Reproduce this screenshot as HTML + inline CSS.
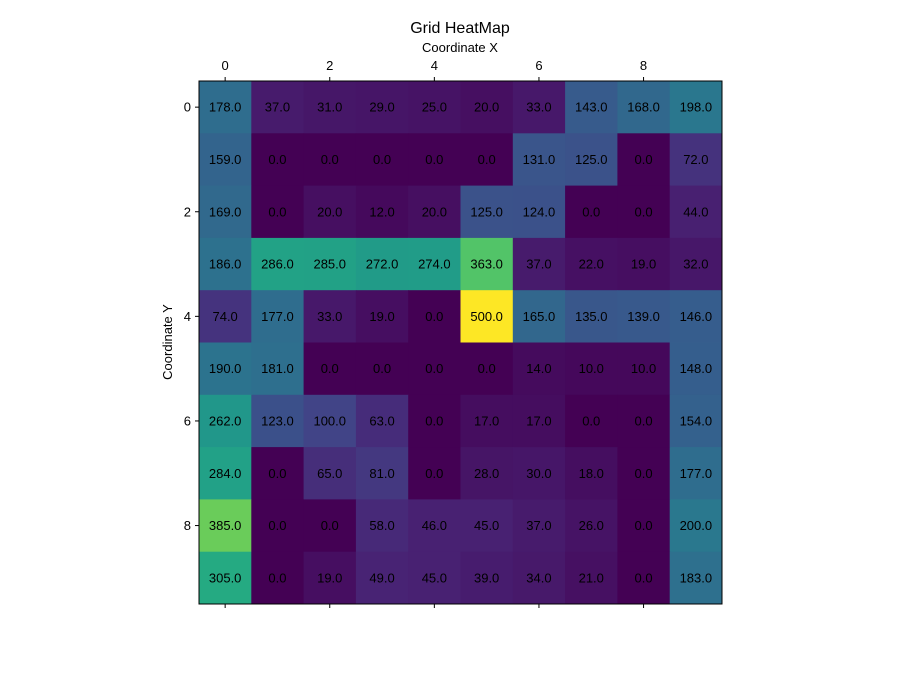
<!DOCTYPE html>
<html><head><meta charset="utf-8"><style>
html,body{margin:0;padding:0;background:#fff;}
svg text{font-family:"Liberation Sans","DejaVu Sans",sans-serif;}
</style></head><body>
<svg id="chart" width="899" height="679" xmlns="http://www.w3.org/2000/svg">
<text x="460" y="33" font-size="16" text-anchor="middle">Grid HeatMap</text>
<text x="460" y="52" font-size="13" text-anchor="middle">Coordinate X</text>
<text x="0" y="0" font-size="13" text-anchor="middle" transform="translate(172,342) rotate(-90)">Coordinate Y</text>
<g id="cells"></g><g id="ticks"></g>
<rect x="199" y="81" width="523" height="523" fill="none" stroke="#000" stroke-width="1"/>
</svg>
<script>
const xCategories=[0,1,2,3,4,5,6,7,8,9];
const yCategories=[0,1,2,3,4,5,6,7,8,9];
const row0=[178,37,31,29,25,20,33,143,168,198];
const row1=[159,0,0,0,0,0,131,125,0,72];
const row2=[169,0,20,12,20,125,124,0,0,44];
const row3=[186,286,285,272,274,363,37,22,19,32];
const row4=[74,177,33,19,0,500,165,135,139,146];
const row5=[190,181,0,0,0,0,14,10,10,148];
const row6=[262,123,100,63,0,17,17,0,0,154];
const row7=[284,0,65,81,0,28,30,18,0,177];
const row8=[385,0,0,58,46,45,37,26,0,200];
const row9=[305,0,19,49,45,39,34,21,0,183];
const tickLabels=[0,2,4,6,8];
const vmin=0,vmax=500;
const values=[row0,row1,row2,row3,row4,row5,row6,row7,row8,row9];
const X0=199,Y0=81,W=523,H=523;
const cw=W/xCategories.length,ch=H/yCategories.length;
const xs=i=>X0+i*cw, ys=j=>Y0+j*ch;
const stops=["#440154","#482475","#414487","#355f8d","#2a788e","#21918c","#22a884","#44bf70","#7ad151","#bddf26","#fde725"];
function hx(c){return [1,3,5].map(k=>parseInt(c.substr(k,2),16));}
function viridis(v){let t=Math.max(0,Math.min(1,(v-vmin)/(vmax-vmin)))*10;let i=Math.min(9,Math.floor(t));let f=t-i;let a=hx(stops[i]),b=hx(stops[i+1]);return "rgb("+a.map((x,k)=>Math.round(x+(b[k]-x)*f)).join(",")+")";}
const NS="http://www.w3.org/2000/svg";
const cells=document.getElementById("cells"),ticks=document.getElementById("ticks");
values.forEach((row,j)=>row.forEach((v,i)=>{
 const r=document.createElementNS(NS,"rect");
 
 
 r.setAttribute("x",xs(i));r.setAttribute("y",ys(j));r.setAttribute("width",cw+0.5);r.setAttribute("height",ch+0.5);r.setAttribute("fill",viridis(v));
 cells.appendChild(r);
 const t=document.createElementNS(NS,"text");
 
 
 t.setAttribute("x",xs(i)+cw/2);t.setAttribute("y",ys(j)+ch/2+4.5);t.setAttribute("font-size","13");t.setAttribute("text-anchor","middle");
 t.textContent=v.toFixed(1);cells.appendChild(t);
}));
tickLabels.forEach(k=>{
 const cx=xs(k)+cw/2, cy=ys(k)+ch/2;
 [[cx,Y0,cx,Y0-4],[cx,Y0+H,cx,Y0+H+4],[X0,cy,X0-4,cy]].forEach(p=>{
  const l=document.createElementNS(NS,"line");
  
  
  l.setAttribute("x1",p[0]);l.setAttribute("y1",p[1]);l.setAttribute("x2",p[2]);l.setAttribute("y2",p[3]);l.setAttribute("stroke","#000");
  ticks.appendChild(l);
 });
 const tx=document.createElementNS(NS,"text");
 
 
 tx.setAttribute("x",cx);tx.setAttribute("y",Y0-11);tx.setAttribute("font-size","13");tx.setAttribute("text-anchor","middle");tx.textContent=k;ticks.appendChild(tx);
 const ty=document.createElementNS(NS,"text");
 
 
 ty.setAttribute("x",X0-8);ty.setAttribute("y",cy+4.5);ty.setAttribute("font-size","13");ty.setAttribute("text-anchor","end");ty.textContent=k;ticks.appendChild(ty);
});
</script>
</body></html>
